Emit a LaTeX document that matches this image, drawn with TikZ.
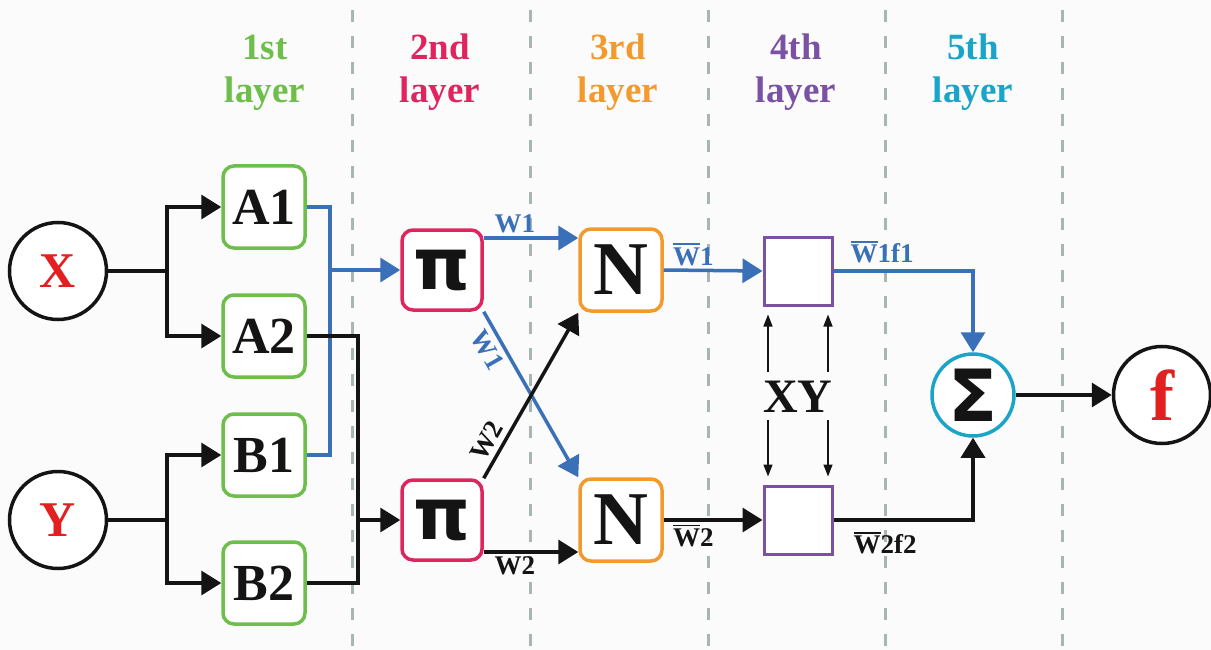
\documentclass[tikz,border=0pt]{standalone}
\usepackage{fontspec}
\setmainfont{Liberation Serif}
\newfontfamily\symfont{DejaVu Sans}
\usetikzlibrary{arrows.meta}
\definecolor{cgreen}{HTML}{6DBE4B}
\definecolor{ccrim}{HTML}{E0245E}
\definecolor{corange}{HTML}{F29B2C}
\definecolor{cpurple}{HTML}{7B52A3}
\definecolor{ccyan}{HTML}{1AA5C8}
\definecolor{cblue}{HTML}{3A70B8}
\definecolor{cred}{HTML}{E2201F}
\definecolor{cdash}{HTML}{A9B5B5}
\definecolor{cbg}{HTML}{FBFBFB}
\definecolor{cblack}{HTML}{141414}
\newcommand\fsz[1]{\fontsize{#1}{#1}\selectfont}
\newcommand\Wbar{\leavevmode\vbox{\hrule height 1.6pt\kern 2.5pt\hbox{W}}}
\begin{document}
\begin{tikzpicture}[x=1pt,y=-1pt,
  box/.style={draw, line width=3.5pt, rounded corners=11pt, minimum width=82pt, minimum height=82pt, inner sep=0pt, fill=white, text=cblack},
  sqbox/.style={draw=cpurple, line width=3pt, minimum width=68pt, minimum height=68pt, inner sep=0pt, fill=white},
  circ/.style={draw=cblack, circle, line width=3.5pt, minimum size=97pt, inner sep=0pt, fill=white, text=cred, font=\fsz{50}\bfseries},
  conn/.style={line width=3.5pt, draw=cblack, -{Triangle[length=20pt,width=24pt]}},
  bconn/.style={line width=3.5pt, draw=cblue, -{Triangle[length=20pt,width=24pt]}},
  plain/.style={line width=3.5pt, draw=cblack},
  bplain/.style={line width=3.5pt, draw=cblue},
  thinarr/.style={line width=1.5pt, draw=cblack, -{Triangle[length=12pt,width=9pt]}},
  divider/.style={draw=cdash, line width=3pt, dash pattern=on 12pt off 14pt},
  layerlbl/.style={anchor=base, font=\fsz{37}\bfseries},
  wlbl/.style={font=\fsz{27}\bfseries, inner sep=3pt},
  rlbl/.style={font=\fsz{27}\bfseries, inner sep=5pt}
]
\fill[cbg] (0,0) rectangle (1211,650);
\useasboundingbox (0,0) rectangle (1211,650);

% dividers
\foreach \x/\n in {352/d1,530/d2,708/d3,885/d4,1062/d5}{
  \coordinate (\n t) at (\x,10);
  \coordinate (\n b) at (\x,650);
  \draw[divider] (\n t) -- (\n b);
}

% layer labels
\node[layerlbl, text=cgreen]  (L1a) at (265,60) {1st};
\node[layerlbl, text=cgreen]  (L1b) at (265,103) {layer};
\node[layerlbl, text=ccrim]   (L2a) at (440,60) {2nd};
\node[layerlbl, text=ccrim]   (L2b) at (440,103) {layer};
\node[layerlbl, text=corange] (L3a) at (618,60) {3rd};
\node[layerlbl, text=corange] (L3b) at (618,103) {layer};
\node[layerlbl, text=cpurple] (L4a) at (796,60) {4th};
\node[layerlbl, text=cpurple] (L4b) at (796,103) {layer};
\node[layerlbl, text=ccyan]   (L5a) at (973,60) {5th};
\node[layerlbl, text=ccyan]   (L5b) at (973,103) {layer};

% inputs
\node[circ] (X) at (58,271) {X};
\node[circ] (Y) at (58,520) {Y};

% layer 1
\node[box, draw=cgreen, font=\fsz{52}\bfseries] (A1) at (264,207) {A1};
\node[box, draw=cgreen, font=\fsz{52}\bfseries] (A2) at (264,336) {A2};
\node[box, draw=cgreen, font=\fsz{52}\bfseries] (B1) at (264,455) {B1};
\node[box, draw=cgreen, font=\fsz{52}\bfseries] (B2) at (264,583) {B2};

% layer 2
\node[box, draw=ccrim, minimum width=80pt, minimum height=80pt, font=\symfont\fsz{72}\bfseries] (P1) at (442,270) {π};
\node[box, draw=ccrim, minimum width=80pt, minimum height=80pt, font=\symfont\fsz{72}\bfseries] (P2) at (442,520) {π};

% layer 3
\node[box, draw=corange, font=\fsz{76}\bfseries] (N1) at (621,270) {N};
\node[box, draw=corange, font=\fsz{76}\bfseries] (N2) at (621,520) {N};

% layer 4
\node[sqbox] (S1) at (798,271) {};
\node[sqbox] (S2) at (798,520) {};
\node[font=\fsz{48}\bfseries, text=cblack] (XY) at (798,397) {XY};

% layer 5
\node[circ, draw=ccyan, minimum size=82pt, text=cblack, font=\symfont\fsz{72}\bfseries] (Sig) at (973,395) {Σ};
\node[circ] (F) at (1162,395) {\fsz{72}f};

% junctions
\coordinate (jx) at (167,271);
\coordinate (jy) at (167,520);
\coordinate (jb) at (330,270);
\coordinate (jk) at (358,520);

% X, Y to layer 1
\draw[plain] (X.east) -- (jx);
\draw[conn] (jx) |- (A1.west);
\draw[conn] (jx) |- (A2.west);
\draw[plain] (Y.east) -- (jy);
\draw[conn] (jy) |- (B1.west);
\draw[conn] (jy) |- (B2.west);

% layer 1 to layer 2
\draw[bplain] (A1.east) -| (jb) |- (B1.east);
\draw[bconn] (jb) -- (P1.west);
\draw[plain] (A2.east) -| (jk) |- (B2.east);
\draw[conn] (jk) -- (P2.west);

% layer 2 to layer 3
\draw[bconn] ([yshift=32pt]P1.east) -- node[wlbl, text=cblue, pos=0.33, above] (w1a) {W1} ([yshift=32pt]N1.west);
\draw[bconn] (P1.south east) -- node[rlbl, text=cblue, pos=0.185, sloped, below] (w1b) {W1} (N2.north west);
\draw[conn] (P2.north east) -- node[rlbl, text=cblack, pos=0.18, sloped, above] (w2a) {W2} (N1.south west);
\draw[conn] ([yshift=-32pt]P2.east) -- node[wlbl, text=cblack, pos=0.33, below] (w2b) {W2} ([yshift=-32pt]N2.west);

% layer 3 to layer 4
\draw[bconn] (N1.east) -- node[wlbl, text=cblue, pos=0.3, above] (wb1) {\Wbar1} (S1.west);
\draw[conn] (N2.east) -- node[wlbl, text=cblack, pos=0.3, below] (wb2) {\Wbar2} (S2.west);

% XY thin arrows
\coordinate (u1) at (768,372);
\coordinate (u2) at (828,372);
\coordinate (v1) at (768,420);
\coordinate (v2) at (828,420);
\draw[thinarr] (u1) -- ([yshift=-8pt]S1.south -| u1);
\draw[thinarr] (u2) -- ([yshift=-8pt]S1.south -| u2);
\draw[thinarr] (v1) -- ([yshift=8pt]S2.north -| v1);
\draw[thinarr] (v2) -- ([yshift=8pt]S2.north -| v2);

% layer 4 to layer 5
\draw[bconn] (S1.east) -| (Sig.north);
\node[wlbl, text=cblue] (wf1) at (882,252) {\Wbar1f1};
\draw[conn] (S2.east) -| (Sig.south);
\node[wlbl, text=cblack] (wf2) at (885,543) {\Wbar2f2};

% output
\draw[conn] (Sig.east) -- (F.west);
\end{tikzpicture}
\end{document}
